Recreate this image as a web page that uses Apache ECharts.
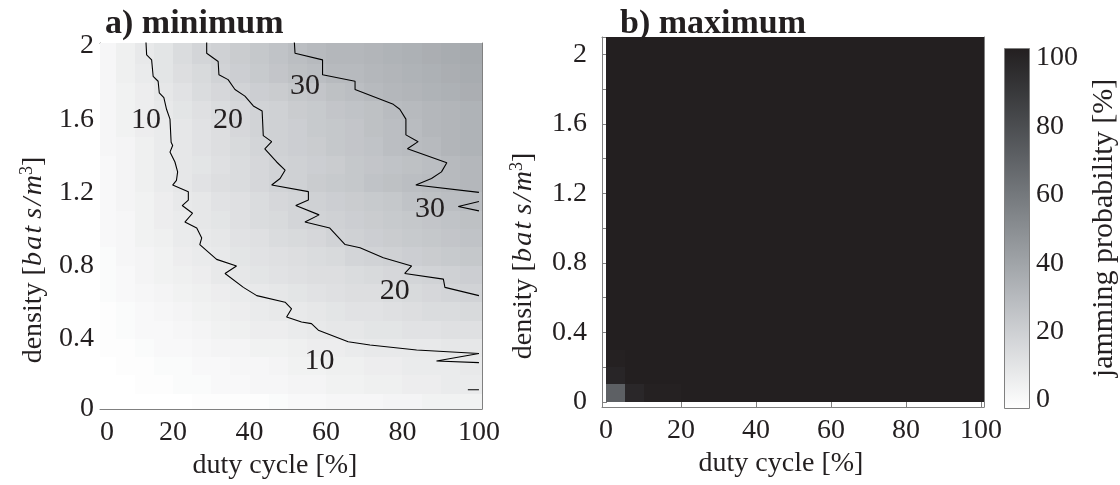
<!DOCTYPE html>
<html>
<head>
<meta charset="utf-8">
<title>jamming probability</title>
<script src="https://cdn.jsdelivr.net/npm/echarts@6/dist/echarts.min.js"></script>
<style>
    html, body { margin: 0; padding: 0; background: #fff; }
    #chart { width: 1120px; height: 485px; }
</style>
</head>
<body>
<div id="chart"></div>
<script>
    // bin starts: duty cycle [%] and density [bats/m^3]
    var dutyBins = [0, 5, 10, 15, 20, 25, 30, 35, 40, 45, 50, 55, 60, 65, 70, 75, 80, 85, 90, 95];
    var densityBins = [0, 0.1, 0.2, 0.3, 0.4, 0.5, 0.6, 0.7, 0.8, 0.9, 1.0, 1.1, 1.2, 1.3, 1.4, 1.5, 1.6, 1.7, 1.8, 1.9];
    var dutyStep = 5;
    var densityStep = 0.1;

    // a) minimum jamming probability [%], one row per density bin (lowest first)
    var minRows = [
        [0, 0, 0, 0, 0, 1, 1, 1, 1, 2, 3, 3, 4, 4, 4, 5, 5, 6, 6, 6],
        [0, 0, 1, 1, 2, 2, 3, 3, 4, 4, 5, 5, 6, 6, 7, 7, 8, 8, 9, 9],
        [0, 1, 1, 2, 2, 3, 3, 4, 4, 5, 6, 6, 7, 7, 8, 8, 9, 9, 9, 10],
        [1, 1, 2, 3, 3, 4, 5, 5, 6, 6, 7, 8, 8, 9, 10, 10, 10, 10, 11, 11],
        [1, 2, 3, 3, 4, 5, 6, 7, 8, 8, 9, 10, 11, 11, 12, 12, 13, 13, 14, 14],
        [1, 2, 3, 4, 5, 6, 7, 8, 9, 10, 10, 11, 12, 13, 13, 14, 15, 16, 16, 17],
        [2, 3, 4, 5, 6, 7, 8, 9, 10, 11, 12, 13, 14, 15, 15, 16, 17, 18, 19, 20],
        [2, 3, 5, 6, 7, 8, 10, 11, 12, 13, 14, 15, 15, 16, 17, 18, 19, 20, 21, 22],
        [2, 4, 5, 6, 8, 9, 10, 12, 13, 14, 15, 16, 17, 19, 20, 21, 22, 23, 24, 25],
        [3, 4, 6, 7, 9, 10, 11, 13, 14, 16, 17, 18, 20, 21, 22, 23, 24, 25, 26, 27],
        [3, 4, 6, 8, 9, 11, 12, 14, 16, 17, 19, 20, 21, 22, 23, 24, 25, 26, 27, 28],
        [3, 5, 6, 8, 10, 11, 13, 14, 16, 18, 19, 21, 22, 23, 24, 25, 27, 28, 29, 30],
        [3, 5, 7, 9, 11, 13, 15, 16, 18, 20, 21, 23, 24, 25, 27, 28, 29, 30, 31, 32],
        [3, 5, 7, 9, 11, 12, 14, 16, 18, 20, 21, 22, 23, 25, 26, 27, 28, 29, 31, 32],
        [4, 5, 7, 9, 11, 13, 15, 17, 19, 21, 22, 23, 25, 26, 27, 29, 30, 31, 33, 34],
        [4, 6, 8, 9, 11, 13, 15, 18, 20, 21, 22, 24, 25, 26, 28, 29, 30, 32, 33, 34],
        [4, 6, 8, 10, 12, 14, 16, 18, 20, 21, 23, 24, 26, 27, 28, 30, 31, 32, 33, 34],
        [4, 6, 8, 11, 13, 16, 18, 20, 22, 23, 25, 26, 28, 29, 31, 32, 33, 34, 35, 36],
        [4, 7, 9, 12, 15, 17, 20, 22, 24, 26, 28, 29, 31, 31, 32, 33, 34, 35, 36, 37],
        [4, 7, 10, 12, 16, 19, 21, 23, 25, 27, 29, 31, 32, 32, 33, 34, 35, 36, 37, 38]
    ];

    // b) maximum jamming probability [%]
    var maxRows = [
        [70, 96, 99, 99, 100, 100, 100, 100, 100, 100, 100, 100, 100, 100, 100, 100, 100, 100, 100, 100],
        [97, 100, 100, 100, 100, 100, 100, 100, 100, 100, 100, 100, 100, 100, 100, 100, 100, 100, 100, 100],
        [99, 100, 100, 100, 100, 100, 100, 100, 100, 100, 100, 100, 100, 100, 100, 100, 100, 100, 100, 100],
        [100, 100, 100, 100, 100, 100, 100, 100, 100, 100, 100, 100, 100, 100, 100, 100, 100, 100, 100, 100],
        [100, 100, 100, 100, 100, 100, 100, 100, 100, 100, 100, 100, 100, 100, 100, 100, 100, 100, 100, 100],
        [100, 100, 100, 100, 100, 100, 100, 100, 100, 100, 100, 100, 100, 100, 100, 100, 100, 100, 100, 100],
        [100, 100, 100, 100, 100, 100, 100, 100, 100, 100, 100, 100, 100, 100, 100, 100, 100, 100, 100, 100],
        [100, 100, 100, 100, 100, 100, 100, 100, 100, 100, 100, 100, 100, 100, 100, 100, 100, 100, 100, 100],
        [100, 100, 100, 100, 100, 100, 100, 100, 100, 100, 100, 100, 100, 100, 100, 100, 100, 100, 100, 100],
        [100, 100, 100, 100, 100, 100, 100, 100, 100, 100, 100, 100, 100, 100, 100, 100, 100, 100, 100, 100],
        [100, 100, 100, 100, 100, 100, 100, 100, 100, 100, 100, 100, 100, 100, 100, 100, 100, 100, 100, 100],
        [100, 100, 100, 100, 100, 100, 100, 100, 100, 100, 100, 100, 100, 100, 100, 100, 100, 100, 100, 100],
        [100, 100, 100, 100, 100, 100, 100, 100, 100, 100, 100, 100, 100, 100, 100, 100, 100, 100, 100, 100],
        [100, 100, 100, 100, 100, 100, 100, 100, 100, 100, 100, 100, 100, 100, 100, 100, 100, 100, 100, 100],
        [100, 100, 100, 100, 100, 100, 100, 100, 100, 100, 100, 100, 100, 100, 100, 100, 100, 100, 100, 100],
        [100, 100, 100, 100, 100, 100, 100, 100, 100, 100, 100, 100, 100, 100, 100, 100, 100, 100, 100, 100],
        [100, 100, 100, 100, 100, 100, 100, 100, 100, 100, 100, 100, 100, 100, 100, 100, 100, 100, 100, 100],
        [100, 100, 100, 100, 100, 100, 100, 100, 100, 100, 100, 100, 100, 100, 100, 100, 100, 100, 100, 100],
        [100, 100, 100, 100, 100, 100, 100, 100, 100, 100, 100, 100, 100, 100, 100, 100, 100, 100, 100, 100],
        [100, 100, 100, 100, 100, 100, 100, 100, 100, 100, 100, 100, 100, 100, 100, 100, 100, 100, 100, 100]
    ];

    // contour lines of panel a), [duty cycle, density]
    var contour10 = [[12.9, 2.03], [13.1, 1.951], [14.4, 1.924], [14.8, 1.834], [16.1, 1.807], [16.4, 1.744],
        [17.6, 1.717], [18.3, 1.654], [19.2, 1.6], [19.5, 1.474], [19.9, 1.456], [19.2, 1.42], [20.5, 1.366],
        [21.2, 1.312], [20.9, 1.266], [19.9, 1.24], [24.0, 1.204], [24.0, 1.158], [22.4, 1.128], [25.1, 1.086],
        [23.1, 1.038], [26.2, 1.005], [27.5, 0.951], [27.0, 0.915], [31.4, 0.834], [36.6, 0.798], [33.6, 0.757],
        [38.4, 0.681], [41.9, 0.636], [49.3, 0.6], [51.0, 0.564], [49.7, 0.519], [53.6, 0.492], [56.2, 0.483],
        [58.0, 0.447], [65.8, 0.384], [71.5, 0.366], [83.7, 0.339], [100, 0.32], [88.9, 0.279], [100, 0.27]];
    var contour10b = [[97.1, 0.122], [100, 0.122]];
    var contour20 = [[28.8, 2.03], [28.8, 1.96], [31.8, 1.915], [32.0, 1.843], [34.4, 1.816], [36.2, 1.762],
        [38.8, 1.726], [41.0, 1.672], [43.3, 1.645], [43.6, 1.51], [45.8, 1.477], [44.0, 1.438], [47.1, 1.366],
        [49.3, 1.321], [48.0, 1.276], [45.8, 1.24], [55.4, 1.204], [55.4, 1.158], [52.1, 1.128], [58.2, 1.077],
        [54.5, 1.038], [61.0, 1.005], [65.0, 0.915], [68.9, 0.897], [75.0, 0.843], [82.4, 0.798], [80.6, 0.757],
        [90.7, 0.726], [91.1, 0.681], [100, 0.636]];
    var contour30 = [[51.7, 2.03], [51.9, 1.96], [59.1, 1.924], [59.1, 1.843], [67.6, 1.807], [67.6, 1.762],
        [77.6, 1.681], [79.3, 1.654], [80.9, 1.6], [80.9, 1.514], [84.1, 1.477], [81.3, 1.438], [91.6, 1.362],
        [90.2, 1.312], [87.6, 1.276], [83.5, 1.24], [100, 1.2]];
    var contour30b = [[100, 1.15], [94.6, 1.123], [100, 1.099]];
    // contour level labels: [duty cycle, density, level]
    var contourLabels = [
        [12.9, 1.595, '10'],
        [34.4, 1.595, '20'],
        [54.5, 1.78, '30'],
        [87.2, 1.108, '30'],
        [78.0, 0.66, '20'],
        [58.3, 0.28, '10']
    ];

    var colorbarTicks = [0, 20, 40, 60, 80, 100];
    var grayMap = ['#ffffff', '#e8e9ea', '#d1d3d6', '#b9bcc0', '#a1a5a9', '#8a8e92',
        '#73777b', '#5d6064', '#484a4d', '#343436', '#231f20'];

    var font = 'Liberation Serif';
    var ink = '#231f20';
    var edge = '#808080';

    function toCells(rows) {
        var cells = [];
        rows.forEach(function (row, j) {
            row.forEach(function (v, i) {
                cells.push([dutyBins[i], densityBins[j], v]);
            });
        });
        return cells;
    }

    // one rectangle per bin, last column/row stretched to the frame
    function drawCell(params, api) {
        var x = api.value(0), y = api.value(1);
        var cs = params.coordSys;
        var lt = api.coord([x, y + densityStep]);
        var rb = api.coord([x + dutyStep, y]);
        var left = Math.round(lt[0]);
        var right = x === dutyBins[dutyBins.length - 1] ? cs.x + cs.width : Math.round(rb[0]);
        var top = y === densityBins[densityBins.length - 1] ? cs.y : Math.round(lt[1]);
        var bottom = Math.round(rb[1]);
        return {
            type: 'rect',
            shape: { x: left, y: top, width: right - left, height: bottom - top },
            style: { fill: api.visual('color') }
        };
    }

    function drawLevel(params, api) {
        var p = api.coord([api.value(0), api.value(1)]);
        return {
            type: 'text',
            x: p[0], y: p[1],
            style: {
                text: contourLabels[params.dataIndex][2], fill: ink,
                font: '30px "Liberation Serif"', align: 'center', verticalAlign: 'middle'
            }
        };
    }

    function drawColorbar(params) {
        var cs = params.coordSys;
        var stops = grayMap.map(function (c, i) {
            return { offset: i / (grayMap.length - 1), color: c };
        });
        return {
            type: 'rect',
            shape: { x: cs.x + 0.5, y: cs.y + 0.5, width: cs.width, height: cs.height },
            style: { fill: new echarts.graphic.LinearGradient(0, 1, 0, 0, stops), stroke: edge, lineWidth: 1 }
        };
    }

    function frameAxis(gridIndex, position, min, max, ticks, labels, margin, fmt) {
        return {
            type: 'value', gridIndex: gridIndex, position: position, min: min, max: max,
            axisLine: { show: true, onZero: false, lineStyle: { color: edge, width: 1 } },
            axisTick: { show: true, inside: true, length: 5, customValues: ticks, lineStyle: { color: edge } },
            splitLine: { show: false },
            axisLabel: labels ? {
                show: true, customValues: labels, formatter: fmt, margin: margin,
                fontFamily: font, fontSize: 28, color: ink
            } : { show: false }
        };
    }

    var densityName = '{t|density [}{i|b\u200aa\u200at\u2005s\u200a/\u200am}{s|3}{t|]}';
    var densityRich = {
        t: { fontFamily: font, fontSize: 28, color: ink },
        i: { fontFamily: font, fontSize: 28, fontStyle: 'italic', color: ink },
        s: { fontFamily: font, fontSize: 18, color: ink, padding: [0, 0, 14, 0] }
    };

    var dutyTicksA = [10, 20, 30, 40, 50, 60, 70, 80, 90, 100];
    var dutyTicksB = [20, 40, 60, 80, 100];
    var densityTicks = [0.2, 0.4, 0.6, 0.8, 1.0, 1.2, 1.4, 1.6, 1.8, 2.0];

    var xA = frameAxis(0, 'bottom', 0.9, 100.8, dutyTicksA, [0.9, 20, 40, 60, 80, 100], 10,
        function (v) { return v < 5 ? '0' : String(v); });
    xA.axisLabel.alignMinLabel = 'left';
    xA.name = 'duty cycle [%]';
    xA.nameLocation = 'middle';
    xA.nameGap = 30;
    xA.nameTextStyle = { fontFamily: font, fontSize: 28, color: ink, padding: [0, 32, 0, 0] };

    var xB = frameAxis(1, 'bottom', -1.1, 100.8, dutyTicksB, [0, 20, 40, 60, 80, 100], 10,
        function (v) { return String(v); });
    xB.name = 'duty cycle [%]';
    xB.nameLocation = 'middle';
    xB.nameGap = 30;
    xB.nameTextStyle = { fontFamily: font, fontSize: 28, color: ink, padding: [0, 24, 0, 0] };

    var yA = frameAxis(0, 'left', 0.016, 2.016, densityTicks, [0.016, 0.4, 0.8, 1.2, 1.6, 2], 6,
        function (v) { return v < 0.1 ? '0' : String(v); });
    yA.name = densityName;
    yA.nameLocation = 'middle';
    yA.nameRotate = 90;
    yA.nameGap = 50;
    yA.nameTextStyle = { rich: densityRich, padding: [0, 68, 0, 0] };

    var yB = frameAxis(1, 'left', -0.03, 2.1, [0, 0.2, 0.4, 0.6, 0.8, 1.0, 1.2, 1.4, 1.6, 1.8, 2.0],
        [0, 0.4, 0.8, 1.2, 1.6, 2], 15, function (v) { return String(v); });
    yB.name = densityName;
    yB.nameLocation = 'middle';
    yB.nameRotate = 90;
    yB.nameGap = 62;
    yB.nameTextStyle = { rich: densityRich, padding: [0, 68, 0, 0] };

    var option = {
        animation: false,
        backgroundColor: '#ffffff',
        title: [
            { text: 'a) minimum', left: 105, top: 7, padding: 0,
              textStyle: { fontFamily: font, fontSize: 34, fontWeight: 'bold', color: ink } },
            { text: 'b) maximum', left: 620, top: 7, padding: 0,
              textStyle: { fontFamily: font, fontSize: 34, fontWeight: 'bold', color: ink } }
        ],
        grid: [
            { left: 100, top: 43, width: 382, height: 370 },
            { left: 602, top: 37, width: 382, height: 370 },
            { left: 1004, top: 48, width: 29, height: 360 }
        ],
        xAxis: [
            xA,
            frameAxis(0, 'top', 0.9, 100.8, dutyTicksA),
            xB,
            frameAxis(1, 'top', -1.1, 100.8, dutyTicksB),
            { type: 'value', gridIndex: 2, min: 0, max: 1, show: false }
        ],
        yAxis: [
            yA,
            frameAxis(0, 'right', 0.016, 2.016, densityTicks),
            yB,
            frameAxis(1, 'right', -0.03, 2.1, densityTicks),
            {
                type: 'value', gridIndex: 2, position: 'right', min: -2.34, max: 102.9,
                axisLine: { show: false }, axisTick: { show: false }, splitLine: { show: false },
                axisLabel: { customValues: colorbarTicks, margin: 7, fontFamily: font, fontSize: 28, color: ink },
                name: 'jamming probability [%]', nameLocation: 'middle', nameRotate: 90, nameGap: 60,
                nameTextStyle: { fontFamily: font, fontSize: 30, color: ink }
            }
        ],
        visualMap: [{
            type: 'continuous', show: false, min: 0, max: 100, dimension: 2,
            seriesIndex: [0, 1], inRange: { color: grayMap }
        }],
        series: [
            { type: 'custom', xAxisIndex: 0, yAxisIndex: 0, clip: true, data: toCells(minRows),
              renderItem: drawCell, encode: { x: 0, y: 1 }, silent: true },
            { type: 'custom', xAxisIndex: 2, yAxisIndex: 2, clip: true, data: toCells(maxRows),
              renderItem: drawCell, encode: { x: 0, y: 1 }, silent: true },
            { type: 'custom', xAxisIndex: 4, yAxisIndex: 4, data: [[0, 0]], renderItem: drawColorbar, silent: true }
        ]
    };

    [contour10, contour10b, contour20, contour30, contour30b].forEach(function (line) {
        option.series.push({
            type: 'line', xAxisIndex: 0, yAxisIndex: 0, data: line, symbol: 'none', clip: true,
            lineStyle: { color: '#000000', width: 1.1 }, z: 3, silent: true
        });
    });

    option.series.push({
        type: 'custom', xAxisIndex: 0, yAxisIndex: 0, z: 4, silent: true,
        data: contourLabels.map(function (d) { return [d[0], d[1]]; }),
        renderItem: drawLevel
    });

    var chart = echarts.init(document.getElementById('chart'));
    chart.setOption(option);
</script>
</body>
</html>
